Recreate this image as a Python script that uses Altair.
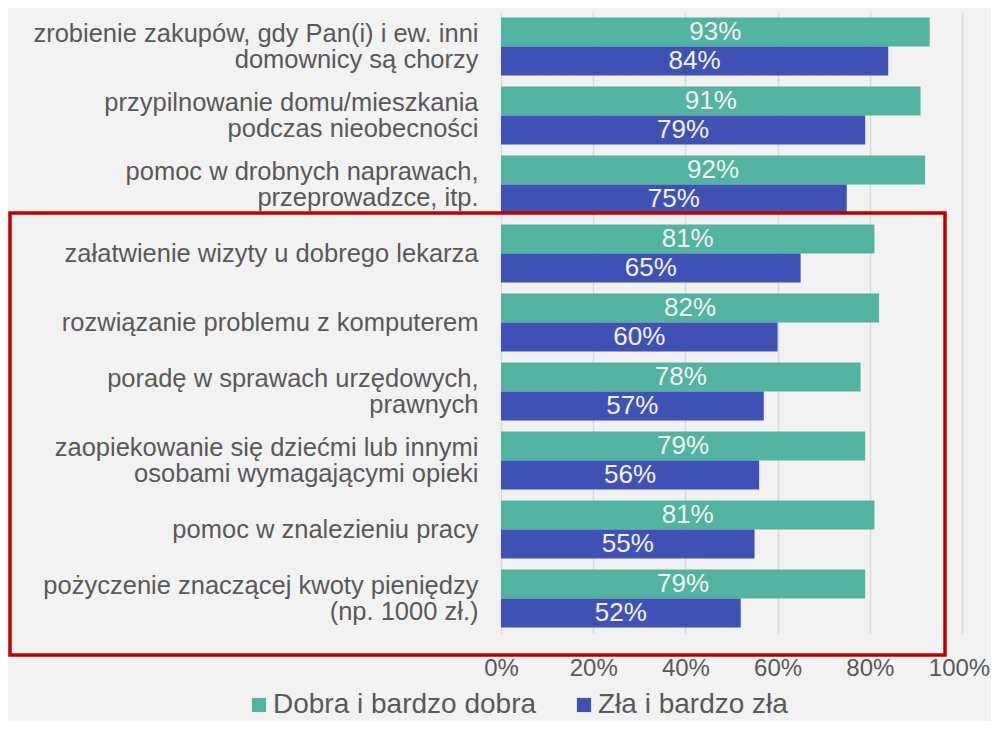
import altair as alt
import pandas as pd

categories = [
    "zrobienie zakupów, gdy Pan(i) i ew. inni|domownicy są chorzy",
    "przypilnowanie domu/mieszkania|podczas nieobecności",
    "pomoc w drobnych naprawach,|przeprowadzce, itp.",
    "załatwienie wizyty u dobrego lekarza",
    "rozwiązanie problemu z komputerem",
    "poradę w sprawach urzędowych,|prawnych",
    "zaopiekowanie się dziećmi lub innymi|osobami wymagającymi opieki",
    "pomoc w znalezieniu pracy",
    "pożyczenie znaczącej kwoty pieniędzy|(np. 1000 zł.)",
]
series = ["Dobra i bardzo dobra", "Zła i bardzo zła"]
good = [93, 91, 92, 81, 82, 78, 79, 81, 79]
bad = [84, 79, 75, 65, 60, 57, 56, 55, 52]
x_ticks = [0, 20, 40, 60, 80, 100]
colors = ["#52b3a0", "#3f51b5"]

rows = []
for c, g, b in zip(categories, good, bad):
    rows.append({"cat": c, "series": series[0], "value": g})
    rows.append({"cat": c, "series": series[1], "value": b})
df = pd.DataFrame(rows)

FONT = "Liberation Sans"
GRAY = "#595959"

y_enc = alt.Y(
    "cat:N",
    sort=categories,
    scale=alt.Scale(paddingInner=0.16, paddingOuter=0.08),
    axis=alt.Axis(
        title=None,
        labelExpr="split(datum.label, '|')",
        labelFontSize=25.5,
        labelLineHeight=26,
        labelOffset=alt.ExprRef(expr="indexof(datum.value, '|') >= 0 ? -13 : 0"),
        labelColor=GRAY,
        labelFont=FONT,
        labelPadding=23,
        labelLimit=600,
        ticks=False,
        domain=False,
        grid=False,
    ),
)
yoff = alt.YOffset("series:N", sort=series, scale=alt.Scale(paddingInner=0, paddingOuter=0))

bars = alt.Chart(df).mark_bar().encode(
    x=alt.X(
        "value:Q",
        scale=alt.Scale(domain=[0, 100]),
        axis=alt.Axis(
            title=None,
            values=x_ticks,
            labelExpr="datum.value + '%'",
            labelFontSize=24,
            labelColor=GRAY,
            labelFont=FONT,
            labelPadding=23,
            labelOffset=alt.ExprRef(expr="datum.value == 100 ? -3 : 0"),
            labelFlush=False,
            labelOverlap=False,
            ticks=False,
            domain=False,
            grid=True,
            gridColor="#d9d9d9",
            gridWidth=1.5,
        ),
    ),
    y=y_enc,
    yOffset=yoff,
    color=alt.Color(
        "series:N",
        sort=series,
        scale=alt.Scale(domain=series, range=colors),
        legend=alt.Legend(
            title=None,
            orient="none",
            direction="horizontal",
            legendX=-256,
            legendY=679,
            symbolType="square",
            symbolSize=200,
            symbolStrokeWidth=0,
            symbolOpacity=1,
            labelFontSize=28,
            labelFont=FONT,
            labelColor=GRAY,
            labelOffset=0,
            columnPadding=33,
            labelLimit=400,
        ),
    ),
)

labels = alt.Chart(df).transform_calculate(
    mid="datum.value / 2", txt="datum.value + '%'"
).mark_text(
    color="#f2f2f2", fontSize=26, font=FONT, baseline="middle", align="center"
).encode(
    x=alt.X("mid:Q"),
    y=alt.Y("cat:N", sort=categories),
    yOffset=yoff,
    text="txt:N",
)

box = alt.Chart(pd.DataFrame({"k": [0]})).mark_rect(
    fill=None, stroke="#c00000", strokeWidth=3.5
).encode(
    x=alt.value(-491), x2=alt.value(444), y=alt.value(201), y2=alt.value(643)
)

chart = alt.layer(bars, labels, box).properties(
    width=461,
    height=621,
    autosize=alt.AutoSizeParams(type="none"),
    padding={"left": 493, "top": 4, "right": 29, "bottom": 88},
    background="#f2f2f2",
).configure_view(stroke=None)

chart.save("out.html", embed_options={"renderer": "svg", "actions": False})
